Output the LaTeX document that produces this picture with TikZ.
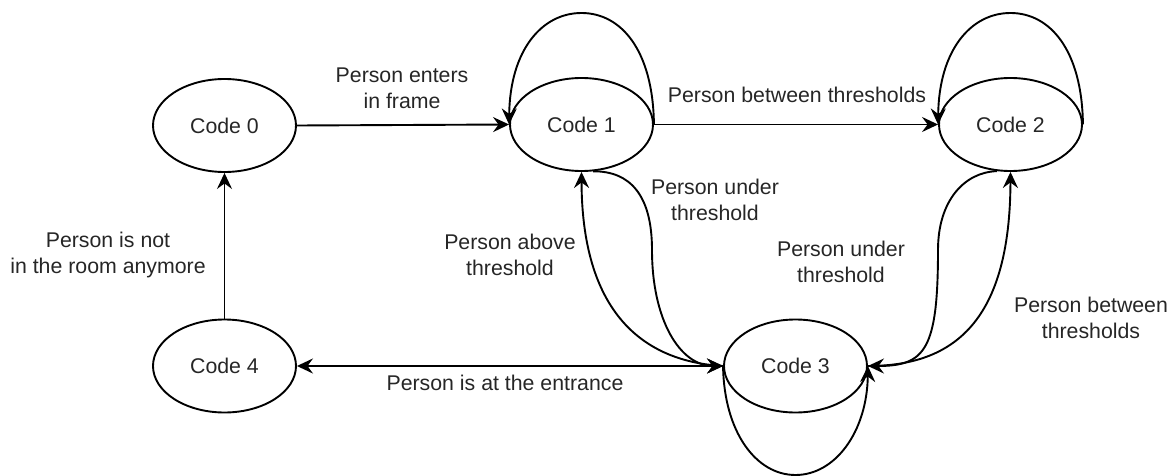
\documentclass[tikz,border=0pt]{standalone}
\usepackage{fontspec}
\setmainfont{Liberation Sans}
\usetikzlibrary{shapes.geometric,arrows.meta}
\newcommand\diagfont{\fontsize{21.3}{26}\selectfont}
\begin{document}
\begin{tikzpicture}[x=1pt,y=-1pt,
  >={Stealth[length=16pt,width=15pt,inset=5.5pt]},
  state/.style={ellipse,draw,line width=1.9pt,minimum width=143pt,minimum height=93pt,inner sep=0pt,font=\diagfont,text=black!85},
  edge/.style={line width=1.9pt,->},
  lbl/.style={align=center,font=\diagfont,text=black!85,inner sep=0pt}]
\useasboundingbox (0,0) rectangle (1173,476);

% states
\node[state] (c0) at (224.5,125.5) {Code 0};
\node[state] (c1) at (581.5,124.5) {Code 1};
\node[state] (c2) at (1010.5,124.5) {Code 2};
\node[state] (c3) at (795.5,366) {Code 3};
\node[state] (c4) at (224.5,366) {Code 4};

% straight transitions
\draw[edge] (c0.east) -- (c1.west);
\draw[edge] (c1.east) -- (c2.west);
\draw[edge] (c4.north) -- (c0.south);
\draw[edge,<->] (c4.east) -- (c3.west);

% self loops
\draw[edge] (c1.east) .. controls (653,50) and (621,13) .. (581.5,13)
  .. controls (542,13) and (510,50) .. (c1.west);
\draw[edge] (c2.east) .. controls (1082,50) and (1050,13) .. (1010.5,13)
  .. controls (971,13) and (939,50) .. (c2.west);
\draw[edge] (c3.west) .. controls (724,432) and (756,475) .. (795.5,475)
  .. controls (835,475) and (867,432) .. (c3.east);

% curved transitions between Code 1 and Code 3
\draw[edge] (c3.west) .. controls (650,362) and (582,320) .. (c1.south);
\draw[edge] (c1.-76) .. controls (630,171) and (652,195) .. (652,250)
  .. controls (652,320) and (680,366) .. (c3.west);

% curved transitions between Code 2 and Code 3
\draw[edge] (c2.-106) .. controls (965,172) and (938,200) .. (938,250)
  .. controls (938,350) and (925,366) .. (c3.east);
\draw[edge] (c3.east) .. controls (955,366) and (1010,320) .. (c2.south);

% labels
\node[lbl] (l01) at (402,88) {Person enters\\in frame};
\node[lbl] (l12) at (797,95) {Person between thresholds};
\node[lbl] (l13) at (715,200) {Person under\\threshold};
\node[lbl] (l31) at (510,255) {Person above\\threshold};
\node[lbl] (l40) at (108,255) {Person is not\\in the room anymore};
\node[lbl] (l23) at (841,262) {Person under\\threshold};
\node[lbl] (l32) at (1091,318) {Person between\\thresholds};
\node[lbl] (l34) at (505,383) {Person is at the entrance};
\end{tikzpicture}
\end{document}
